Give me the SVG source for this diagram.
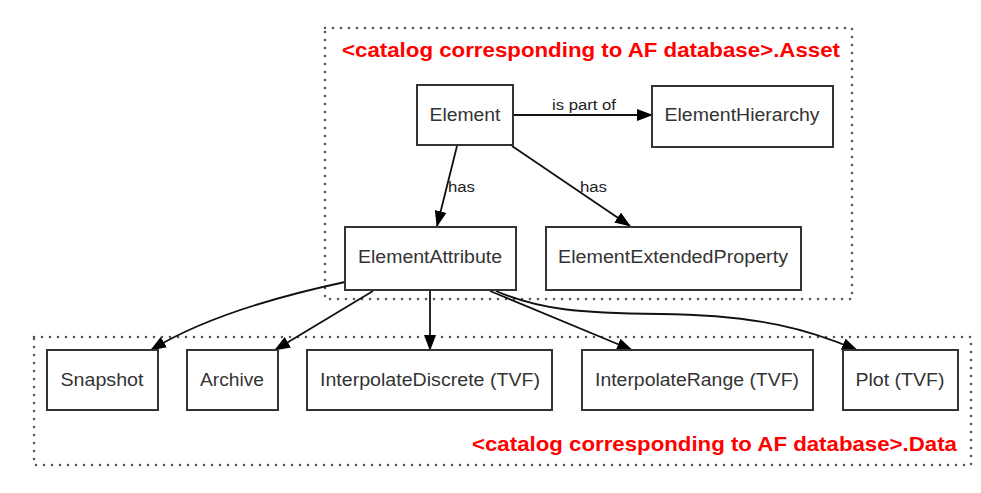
<svg xmlns="http://www.w3.org/2000/svg" width="981" height="493" viewBox="0 0 981 493">
<style>
.cl{fill:none;stroke:#555;stroke-width:2.6;stroke-dasharray:0 8;stroke-linecap:round}
.nd{fill:#fff;stroke:#333;stroke-width:2}
.nt{font-family:"Liberation Sans",Arial,sans-serif;font-size:17.5px;fill:#333;text-anchor:middle}
.et{font-family:"Liberation Sans",Arial,sans-serif;font-size:14px;fill:#222}
.tt{font-family:"Liberation Sans",Arial,sans-serif;font-size:20.5px;font-weight:bold;fill:#f00}
.ed{fill:none;stroke:#111;stroke-width:1.8}
</style>
<defs>
<marker id="ah" viewBox="0 0 16 12" refX="15" refY="6" markerWidth="16" markerHeight="12" markerUnits="userSpaceOnUse" orient="auto">
<path d="M0,0 L16,6 L0,12 Z" fill="#000"/>
</marker>
</defs>
<rect width="981" height="493" fill="#fff"/>
<g id="cluster-asset">
<rect class="cl" x="325" y="28" width="527" height="271"/>
<text class="tt" x="342" y="57" textLength="498" lengthAdjust="spacingAndGlyphs">&lt;catalog corresponding to AF database&gt;.Asset</text>
</g>
<g id="cluster-data">
<rect class="cl" x="34" y="337" width="937" height="128"/>
<text class="tt" x="472" y="451" textLength="485" lengthAdjust="spacingAndGlyphs">&lt;catalog corresponding to AF database&gt;.Data</text>
</g>
<g id="connectors">
<path class="ed" d="M513,115 L652,115" marker-end="url(#ah)"/>
<text class="et" x="552" y="110" textLength="64" lengthAdjust="spacingAndGlyphs">is part of</text>
<path class="ed" d="M457,146 L437,226" marker-end="url(#ah)"/>
<text class="et" x="448" y="192" textLength="27" lengthAdjust="spacingAndGlyphs">has</text>
<path class="ed" d="M512,146 L630,226" marker-end="url(#ah)"/>
<text class="et" x="580" y="192" textLength="27" lengthAdjust="spacingAndGlyphs">has</text>
<path class="ed" d="M345,282 C270,298 200,320 151,350" marker-end="url(#ah)"/>
<path class="ed" d="M373,291 L275,350" marker-end="url(#ah)"/>
<path class="ed" d="M430,291 L430,350" marker-end="url(#ah)"/>
<path class="ed" d="M490,291 L632,350" marker-end="url(#ah)"/>
<path class="ed" d="M496,291 C540,310 580,313 660,314 C760,315 810,330 857,350" marker-end="url(#ah)"/>
</g>
<g id="node-element">
<rect class="nd" x="417" y="85" width="96" height="60"/>
<text class="nt" x="465" y="121" textLength="71" lengthAdjust="spacingAndGlyphs">Element</text>
</g>
<g id="node-elementhierarchy">
<rect class="nd" x="652" y="86" width="181" height="61"/>
<text class="nt" x="742" y="121" textLength="155" lengthAdjust="spacingAndGlyphs">ElementHierarchy</text>
</g>
<g id="node-elementattribute">
<rect class="nd" x="345" y="227" width="171" height="63"/>
<text class="nt" x="430" y="263" textLength="144" lengthAdjust="spacingAndGlyphs">ElementAttribute</text>
</g>
<g id="node-elementextendedproperty">
<rect class="nd" x="546" y="227" width="255" height="63"/>
<text class="nt" x="673" y="263" textLength="230" lengthAdjust="spacingAndGlyphs">ElementExtendedProperty</text>
</g>
<g id="node-snapshot">
<rect class="nd" x="47" y="350" width="111" height="60"/>
<text class="nt" x="102" y="386" textLength="83" lengthAdjust="spacingAndGlyphs">Snapshot</text>
</g>
<g id="node-archive">
<rect class="nd" x="187" y="350" width="91" height="60"/>
<text class="nt" x="232" y="386" textLength="64" lengthAdjust="spacingAndGlyphs">Archive</text>
</g>
<g id="node-interpolatediscrete">
<rect class="nd" x="307" y="350" width="245" height="60"/>
<text class="nt" x="430" y="386" textLength="220" lengthAdjust="spacingAndGlyphs">InterpolateDiscrete (TVF)</text>
</g>
<g id="node-interpolaterange">
<rect class="nd" x="582" y="350" width="231" height="60"/>
<text class="nt" x="697" y="386" textLength="204" lengthAdjust="spacingAndGlyphs">InterpolateRange (TVF)</text>
</g>
<g id="node-plot">
<rect class="nd" x="843" y="350" width="115" height="60"/>
<text class="nt" x="900" y="386" textLength="89" lengthAdjust="spacingAndGlyphs">Plot (TVF)</text>
</g>
</svg>
